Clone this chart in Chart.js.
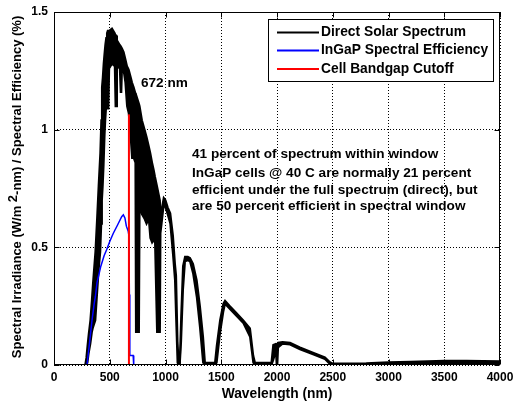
<!DOCTYPE html>
<html><head><meta charset="utf-8">
<script src="https://cdn.jsdelivr.net/npm/chart.js@4"></script>
<style>html,body{margin:0;padding:0;background:#fff;overflow:hidden}canvas{display:block}</style>
</head><body>
<canvas id="c" width="513" height="404"></canvas>
<script>
// ---- data ----
const spectrumNm    = [0,280,290,300,311,326,340,350,371,386,400,415,424,430,437,445,454,460,468,475,482,488,495,520,545,552,558,565,590,598,604,610,625,640,655,670,690,700,715,730,735,762,768,789,813,830,850,864,880,894,906,924,950,955,965,984,1000,1020,1043,1067,1085,1095,1108,1118,1128,1140,1157,1175,1200,1220,1247,1280,1309,1337,1354,1444,1459,1489,1518,1534,1578,1638,1698,1758,1787,1803,1950,1966,1990,1997,2003,2010,2050,2117,2206,2323,2430,2475,2500,2800,3000,3200,3500,3700,4000];
const spectrumUpper = [0,0,0.03,0.08,0.13,0.19,0.28,0.35,0.48,0.62,0.76,0.90,1.04,1.18,1.22,1.28,1.33,1.36,1.39,1.41,1.42,1.42,1.42,1.43,1.41,1.40,1.40,1.38,1.36,1.355,1.35,1.345,1.33,1.30,1.27,1.255,1.22,1.20,1.18,1.155,1.15,1.11,1.10,1.04,1.00,0.97,0.93,0.90,0.86,0.83,0.80,0.76,0.70,0.62,0.66,0.71,0.70,0.67,0.645,0.55,0.43,0.38,0.10,0.01,0.01,0.20,0.42,0.46,0.46,0.455,0.43,0.36,0.25,0.12,0.01,0.01,0.08,0.19,0.26,0.273,0.25,0.22,0.19,0.155,0.04,0.01,0.01,0.085,0.09,0.088,0.09,0.095,0.098,0.095,0.075,0.052,0.032,0.012,0.006,0.007,0.012,0.014,0.018,0.018,0.016];
const spectrumLower = [0,0,0,0.01,0.05,0.09,0.14,0.16,0.19,0.30,0.40,0.48,0.60,0.70,0.76,0.85,0.98,1.04,1.10,1.15,1.09,1.09,1.26,1.28,1.27,1.10,1.10,1.27,1.26,1.16,1.16,1.26,1.25,1.20,1.10,1.07,0.95,0.88,0.88,0.86,0.14,0.14,0.68,0.64,0.62,0.60,0.62,0.54,0.52,0.53,0.52,0.14,0.14,0.56,0.60,0.68,0.67,0.64,0.60,0.47,0.36,0.20,0.01,0,0,0.10,0.32,0.44,0.445,0.44,0.39,0.29,0.16,0.01,0,0,0.01,0.135,0.225,0.26,0.238,0.208,0.178,0.12,0.01,0,0,0.02,0.06,0,0,0.075,0.09,0.087,0.067,0.045,0.025,0.004,0.001,0.002,0.005,0.006,0.008,0.009,0.008];
const effNm  = [296,320,341,360,371,386,398,420,450,472,500,532,570,607,622,636,649,665,672,676,680,710,715,730];
const effVal = [0,0.10,0.19,0.26,0.29,0.35,0.375,0.42,0.465,0.49,0.525,0.56,0.595,0.63,0.638,0.625,0.59,0.57,0.55,0.30,0.04,0.04,0,0];
const cutoffNm  = [672,672];
const cutoffVal = [0,1.065];
const xTicks = [0,500,1000,1500,2000,2500,3000,3500,4000];
const yTicks = [0,0.5,1,1.5];
const seriesLabels = ['Direct Solar Spectrum','InGaP Spectral Efficiency','Cell Bandgap Cutoff'];
const seriesColors = ['#000000','#0000ff','#ff0000'];
const xTitle = 'Wavelength (nm)';
const yTitleParts = ['Spectral Irradiance (W/m ', '2', '-nm) / Spectral Efficiency (%)'];
const cutoffNote = '672 nm';
const notes = ['41 percent of spectrum within window','InGaP cells @ 40 C are normally 21 percent','efficient under the full spectrum (direct), but','are 50 percent efficient in spectral window'];

const FAM = '"Liberation Sans", Arial, Helvetica, sans-serif';
const pts = (xs, ys) => xs.map((v, i) => ({x: v, y: ys[i]}));

const decor = {
  id: 'decor',
  afterDraw(chart) {
    const {ctx, chartArea: a, scales: {x, y}} = chart;
    ctx.save();
    const L = Math.round(a.left) + 0.5, R = Math.round(a.right) - 0.5;
    const T = Math.round(a.top) + 0.5, B = Math.round(a.bottom) - 0.5;
    ctx.strokeStyle = '#000'; ctx.lineWidth = 1; ctx.setLineDash([]);
    ctx.beginPath();
    xTicks.forEach(v => { const p = Math.round(x.getPixelForValue(v)) + 0.5;
      ctx.moveTo(p, B); ctx.lineTo(p, B - 5); ctx.moveTo(p, T); ctx.lineTo(p, T + 5); });
    yTicks.forEach(v => { const p = Math.round(y.getPixelForValue(v)) + 0.5;
      ctx.moveTo(L, p); ctx.lineTo(L + 5, p); ctx.moveTo(R, p); ctx.lineTo(R - 5, p); });
    ctx.stroke();
    ctx.strokeRect(L, T, R - L, B - T);

    // annotations
    ctx.fillStyle = '#000';
    ctx.font = 'bold 13.6px ' + FAM;
    ctx.textAlign = 'left'; ctx.textBaseline = 'middle';
    ctx.fillText(cutoffNote, 141, 83.5);
    const lineY = [154, 173.5, 190, 206.5];
    notes.forEach((t, i) => ctx.fillText(t, 192, lineY[i]));

    // legend
    ctx.font = 'bold 13.8px ' + FAM;
    ctx.fillStyle = '#fff';
    ctx.fillRect(268.5, 19.5, 225, 62);
    ctx.strokeStyle = '#000'; ctx.lineWidth = 1;
    ctx.strokeRect(268.5, 19.5, 225, 62);
    const rowY = [32.5, 50.5, 69];
    seriesLabels.forEach((t, i) => {
      ctx.strokeStyle = seriesColors[i]; ctx.lineWidth = 2;
      ctx.beginPath(); ctx.moveTo(277, rowY[i]); ctx.lineTo(319, rowY[i]); ctx.stroke();
      ctx.fillStyle = '#000'; ctx.fillText(t, 321, rowY[i]);
    });

    // axis titles
    ctx.font = 'bold 13.8px ' + FAM;
    ctx.textAlign = 'center';
    ctx.fillText(xTitle, (a.left + a.right) / 2, 394);
    ctx.save();
    ctx.translate(17, 187);
    ctx.rotate(-Math.PI / 2);
    ctx.font = 'bold 13px ' + FAM;
    const w0 = ctx.measureText(yTitleParts[0]).width;
    const w1 = ctx.measureText(yTitleParts[1]).width;
    const w2 = ctx.measureText(yTitleParts[2]).width;
    let sx = -(w0 + w1 + w2) / 2;
    ctx.textAlign = 'left';
    ctx.fillText(yTitleParts[0], sx, 0); sx += w0;
    ctx.fillText(yTitleParts[1], sx, -4); sx += w1;
    ctx.fillText(yTitleParts[2], sx, 0);
    ctx.restore();
    ctx.restore();
  }
};

new Chart(document.getElementById('c'), {
  type: 'line',
  data: {
    datasets: [
      {label: seriesLabels[2], data: pts(cutoffNm, cutoffVal), borderColor: seriesColors[2], borderWidth: 2, pointRadius: 0, fill: false},
      {label: seriesLabels[1], data: pts(effNm, effVal), borderColor: seriesColors[1], borderWidth: 1.5, pointRadius: 0, fill: false},
      {label: seriesLabels[0], data: pts(spectrumNm, spectrumUpper), borderColor: '#000', backgroundColor: '#000', borderWidth: 2, pointRadius: 0, fill: '+1'},
      {label: seriesLabels[0] + ' (lower)', data: pts(spectrumNm, spectrumLower), borderColor: '#000', borderWidth: 2, pointRadius: 0, fill: false}
    ]
  },
  options: {
    responsive: false, animation: false,
    layout: {padding: {left: 0, right: 13, top: 12, bottom: 0}},
    plugins: {legend: {display: false}, tooltip: {enabled: false}},
    elements: {line: {tension: 0}},
    scales: {
      x: {
        type: 'linear', min: 0, max: 4000,
        ticks: {stepSize: 500, color: '#000', padding: 5, maxRotation: 0, autoSkip: false,
                callback: v => String(v),
                font: {family: FAM, size: 12, weight: 'bold'}},
        grid: {color: '#000', lineWidth: 1, drawTicks: false},
        border: {display: false, dash: [1, 2]},
        afterFit(s) { s.height = 39; s.paddingLeft = 0; s.paddingRight = 0; }
      },
      y: {
        type: 'linear', min: 0, max: 1.5,
        ticks: {stepSize: 0.5, color: '#000', padding: 6,
                callback: v => String(v),
                font: {family: FAM, size: 12, weight: 'bold'}},
        grid: {color: '#000', lineWidth: 1, drawTicks: false},
        border: {display: false, dash: [1, 2]},
        afterFit(s) { s.width = 54; s.paddingTop = 0; s.paddingBottom = 0; }
      }
    }
  },
  plugins: [decor]
});
</script>
</body></html>
